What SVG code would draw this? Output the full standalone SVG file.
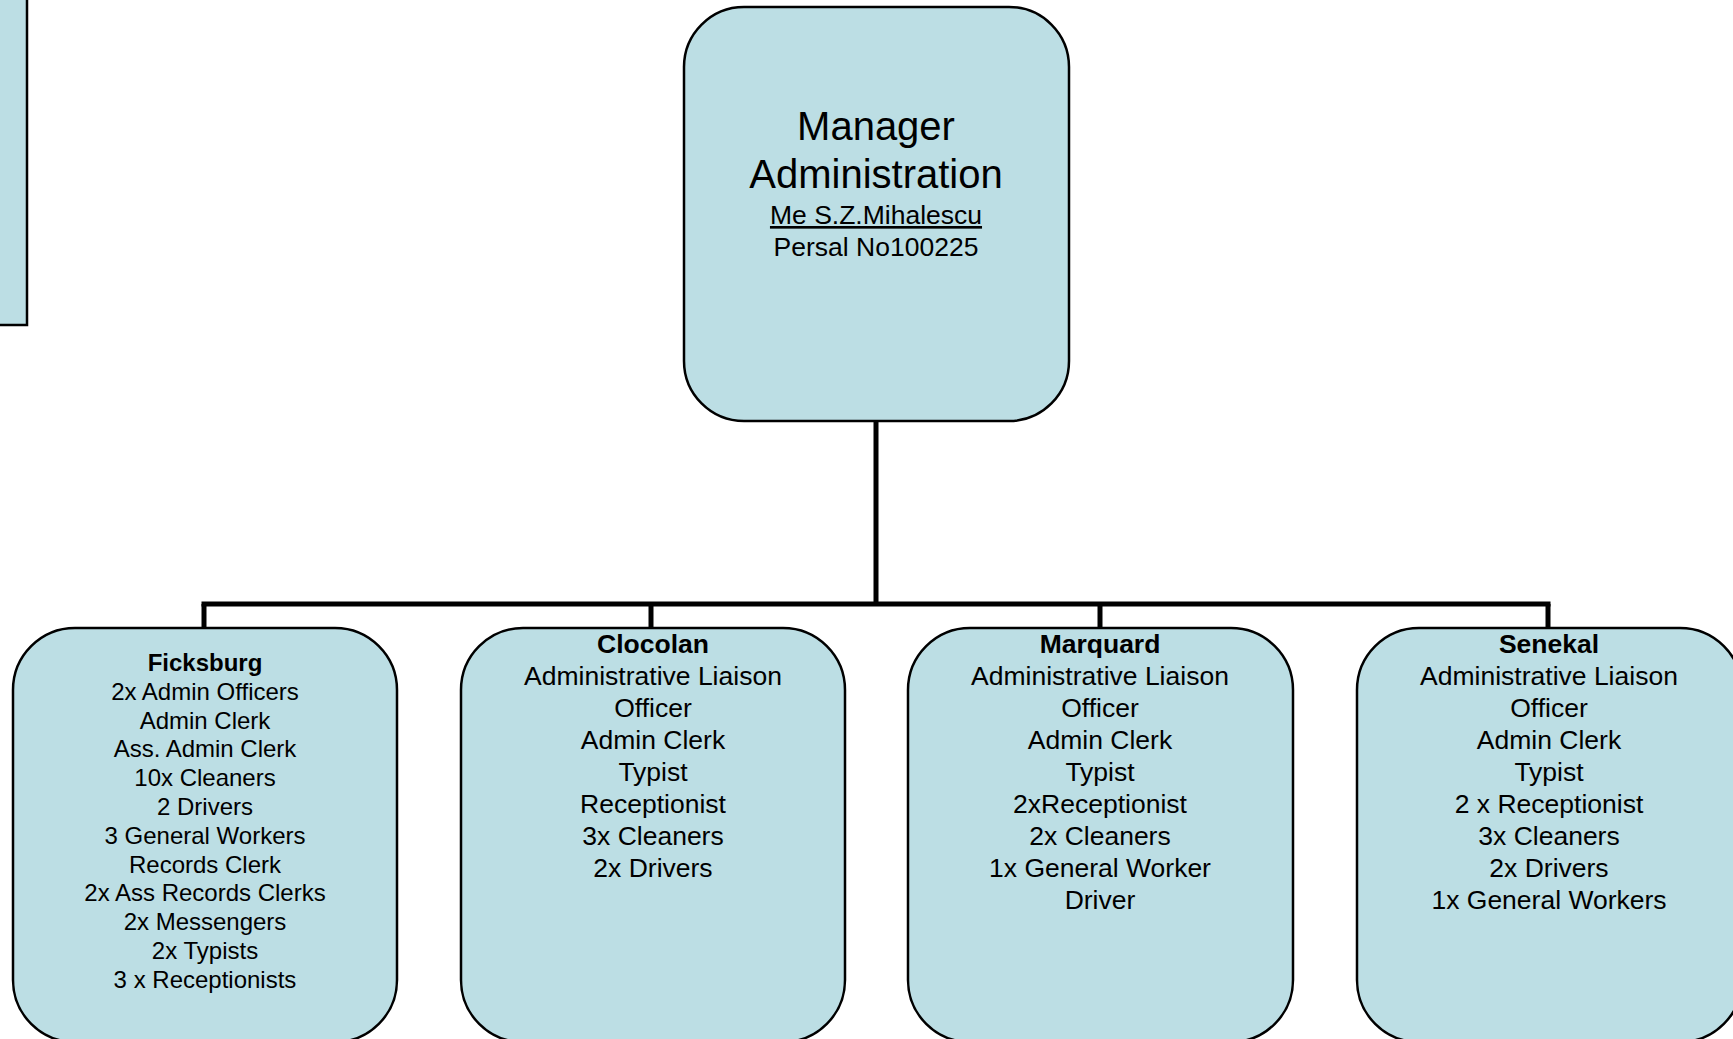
<svg xmlns="http://www.w3.org/2000/svg" width="1733" height="1039" viewBox="0 0 1733 1039">
<style>
.box{fill:#BCDEE4;stroke:#000;stroke-width:2.5}
.conn{stroke:#000;stroke-width:5;fill:none}
text{font-family:"Liberation Sans",Arial,sans-serif;fill:#000;text-anchor:middle}
.t{font-size:24px}
.m{font-size:26.5px}
.b{font-weight:bold}
</style>
<rect width="1733" height="1039" fill="#fff"/>
<g id="left-partial">
<rect class="box" x="-10" y="-10" width="37" height="335" stroke-width="3"/>
</g>
<g id="connectors">
<line class="conn" x1="876" y1="421" x2="876" y2="604"/>
<line class="conn" x1="201.5" y1="604" x2="1550.5" y2="604"/>
<line class="conn" x1="204" y1="604" x2="204" y2="628"/>
<line class="conn" x1="651" y1="604" x2="651" y2="628"/>
<line class="conn" x1="1100" y1="604" x2="1100" y2="628"/>
<line class="conn" x1="1548" y1="604" x2="1548" y2="628"/>
</g>
<g id="manager">
<rect class="box" x="684" y="7" width="385" height="414" rx="60" ry="60"/>
<text x="876" y="140" font-size="40">Manager</text>
<text x="876" y="188" font-size="40">Administration</text>
<text x="876" y="224" class="m" text-decoration="underline">Me S.Z.Mihalescu</text>
<text x="876" y="256" class="m">Persal No100225</text>
</g>
<g id="ficksburg">
<rect class="box" x="13" y="628" width="384" height="414" rx="62" ry="62"/>
<text x="205" y="671" class="t b">Ficksburg</text>
<text x="205" y="700" class="t">2x Admin Officers</text>
<text x="205" y="728.6" class="t">Admin Clerk</text>
<text x="205" y="757.4" class="t">Ass. Admin Clerk</text>
<text x="205" y="786.2" class="t">10x Cleaners</text>
<text x="205" y="815" class="t">2 Drivers</text>
<text x="205" y="843.8" class="t">3 General Workers</text>
<text x="205" y="872.6" class="t">Records Clerk</text>
<text x="205" y="901.4" class="t">2x Ass Records Clerks</text>
<text x="205" y="930.2" class="t">2x Messengers</text>
<text x="205" y="959" class="t">2x Typists</text>
<text x="205" y="987.8" class="t">3 x Receptionists</text>
</g>
<g id="clocolan">
<rect class="box" x="461" y="628" width="384" height="414" rx="62" ry="62"/>
<text x="653" y="653" class="m b">Clocolan</text>
<text x="653" y="685" class="m">Administrative Liaison</text>
<text x="653" y="717" class="m">Officer</text>
<text x="653" y="749" class="m">Admin Clerk</text>
<text x="653" y="781" class="m">Typist</text>
<text x="653" y="813" class="m">Receptionist</text>
<text x="653" y="845" class="m">3x Cleaners</text>
<text x="653" y="877" class="m">2x Drivers</text>
</g>
<g id="marquard">
<rect class="box" x="908" y="628" width="385" height="414" rx="62" ry="62"/>
<text x="1100" y="653" class="m b">Marquard</text>
<text x="1100" y="685" class="m">Administrative Liaison</text>
<text x="1100" y="717" class="m">Officer</text>
<text x="1100" y="749" class="m">Admin Clerk</text>
<text x="1100" y="781" class="m">Typist</text>
<text x="1100" y="813" class="m">2xReceptionist</text>
<text x="1100" y="845" class="m">2x Cleaners</text>
<text x="1100" y="877" class="m">1x General Worker</text>
<text x="1100" y="909" class="m">Driver</text>
</g>
<g id="senekal">
<rect class="box" x="1357" y="628" width="385" height="414" rx="62" ry="62"/>
<text x="1549" y="653" class="m b">Senekal</text>
<text x="1549" y="685" class="m">Administrative Liaison</text>
<text x="1549" y="717" class="m">Officer</text>
<text x="1549" y="749" class="m">Admin Clerk</text>
<text x="1549" y="781" class="m">Typist</text>
<text x="1549" y="813" class="m">2 x Receptionist</text>
<text x="1549" y="845" class="m">3x Cleaners</text>
<text x="1549" y="877" class="m">2x Drivers</text>
<text x="1549" y="909" class="m">1x General Workers</text>
</g>
</svg>
